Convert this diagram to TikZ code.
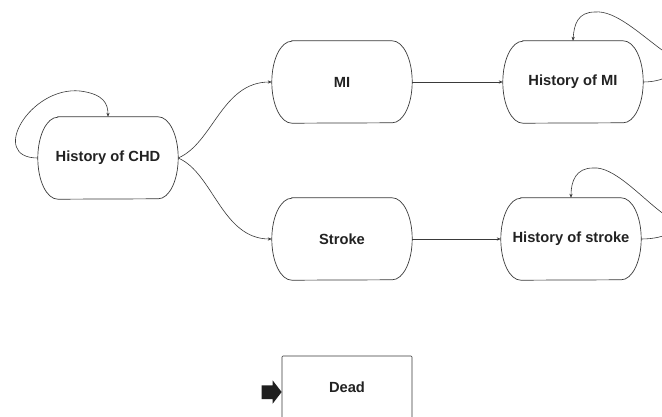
\documentclass[tikz,border=0pt]{standalone}
\usepackage{fontspec}
\setmainfont{Liberation Sans}
\usetikzlibrary{calc,arrows.meta}
\definecolor{ln}{HTML}{3A3A3A}
\definecolor{tx}{HTML}{222222}
\tikzset{
  state/.style={minimum width=140pt,minimum height=82pt,inner sep=0pt,font=\bfseries\fontsize{14.7}{17}\selectfont,text=tx},
  outline/.style={draw=ln,line width=0.7pt},
  conn/.style={draw=ln,line width=0.6pt,-{Stealth[length=4pt,width=3.2pt]}},
  deadbox/.style={draw=ln,line width=0.7pt,rounded corners=1pt,minimum width=130pt,minimum height=72pt,inner sep=0pt},
  lbl/.style={font=\bfseries\fontsize{14.7}{17}\selectfont,text=tx,inner sep=0pt}
}
\begin{document}
\begin{tikzpicture}[x=1pt,y=1pt]
\useasboundingbox (0,0) rectangle (662,416);
\clip (0,0) rectangle (662,416);
\fill[white] (0,0) rectangle (662,416);
\node[state] (chd) at (108,258) {History of CHD};
\node[state] (mi) at (342,334) {MI};
\node[state] (hmi) at (573,334) {History of MI};
\node[state] (stroke) at (342,177) {Stroke};
\node[state] (hs) at (571,177) {History of stroke};
\foreach \n in {chd,mi,hmi,stroke,hs}{
  \draw[outline] ($(\n.north west)+(20,0)$) -- ($(\n.north east)+(-20,0)$)
    arc[start angle=90,end angle=-90,x radius=20pt,y radius=41pt]
    -- ($(\n.south west)+(20,0)$)
    arc[start angle=270,end angle=90,x radius=20pt,y radius=41pt] -- cycle;
}
\node[deadbox] (dead) at (347,24) {};
\node[lbl] (deadtxt) at ($(dead.center)+(0,5)$) {Dead};
\fill[black!88] ($(dead.west)+(-20,6.6)$) -- ($(dead.west)+(-9,6.6)$) -- ($(dead.west)+(-9,11.6)$)
  -- (dead.west) -- ($(dead.west)+(-9,-11.7)$) -- ($(dead.west)+(-9,-7)$) -- ($(dead.west)+(-20,-7)$) -- cycle;
% transitions
\draw[conn] (chd.east) .. controls +(35,15) and +(-50,0) .. (mi.west);
\draw[conn] (chd.east) .. controls +(35,-15) and +(-50,0) .. (stroke.west);
\draw[conn] (mi.east) -- (hmi.west);
\draw[conn] (stroke.east) -- (hs.west);
% self loops
\draw[conn] (chd.west) .. controls (-12,258) and (30,330) .. (80,325) .. controls (104,322) and (108,312) .. (chd.north);
\draw[conn] (hmi.east) .. controls +(25,0) and ($(hmi.center)+(117,14)$) .. ($(hmi.center)+(89,32)$)
  .. controls ($(hmi.center)+(67,48)$) and ($(hmi.center)+(42,72)$) .. ($(hmi.center)+(22,70)$)
  .. controls ($(hmi.center)+(5,70)$) and ($(hmi.center)+(1,58)$) .. (hmi.north);
\draw[conn] (hs.east) .. controls +(25,0) and ($(hs.center)+(117,10)$) .. ($(hs.center)+(90,27)$)
  .. controls ($(hs.center)+(68,44)$) and ($(hs.center)+(42,73)$) .. ($(hs.center)+(22,71)$)
  .. controls ($(hs.center)+(5,71)$) and ($(hs.center)+(0,58)$) .. (hs.north);
\end{tikzpicture}
\end{document}
